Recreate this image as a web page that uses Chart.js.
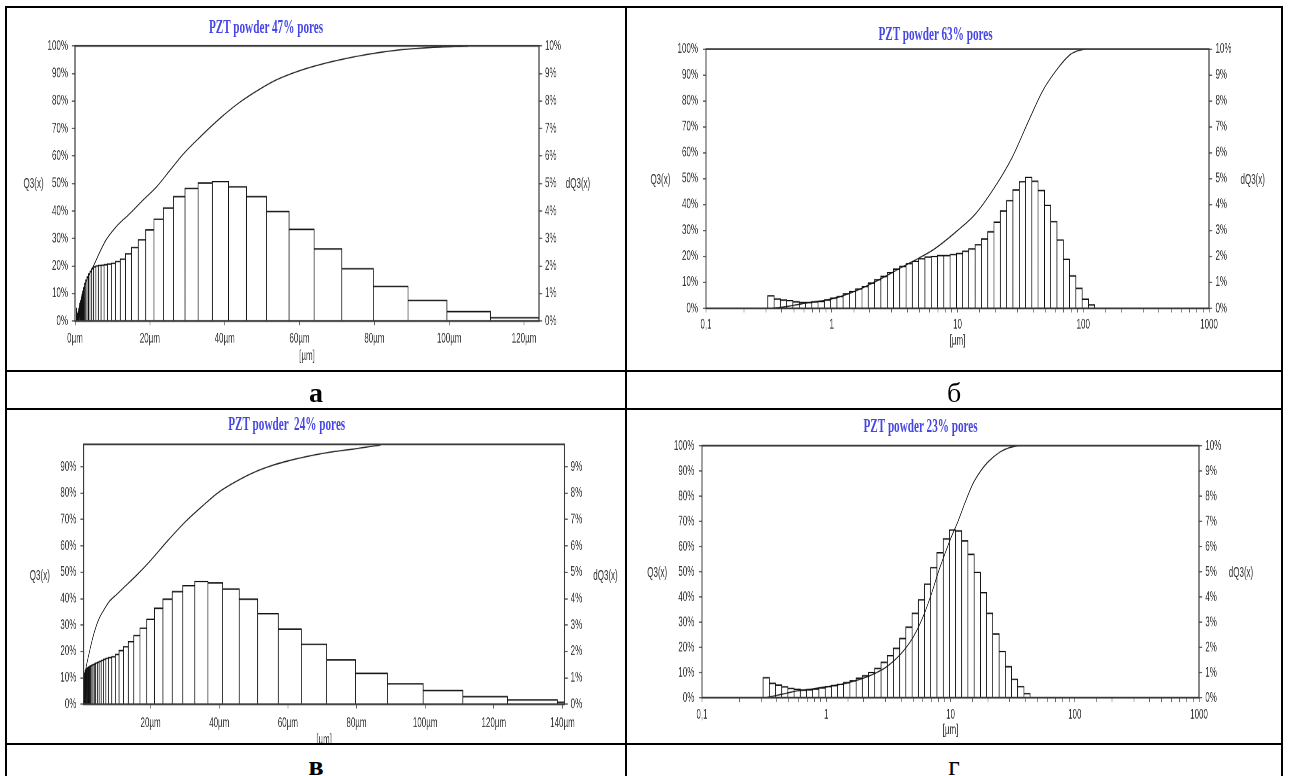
<!DOCTYPE html>
<html><head><meta charset="utf-8">
<script src="https://cdn.jsdelivr.net/npm/chart.js@4.4.1/dist/chart.umd.min.js"></script>
<style>
html,body{margin:0;padding:0;background:#fff;}
body{width:1289px;height:776px;position:relative;overflow:hidden;font-family:"Liberation Sans",Arial,sans-serif;}
.ln{position:absolute;background:#000;}
.cell{position:absolute;overflow:hidden;}
.wrap{position:absolute;left:0;top:0;transform-origin:0 0;transform:scale(0.8,1.4);}
.wrap canvas{position:absolute;left:0;top:0;}
.ttl{position:absolute;transform:translate(-50%,-50%);white-space:pre;font:bold 14px "Liberation Serif","Times New Roman",serif;color:#4646e4;}
.ax{position:absolute;transform:translate(-50%,-50%);white-space:nowrap;font:10px "Liberation Sans",Arial,sans-serif;color:#333;}
.lbl{position:absolute;text-align:center;font-family:"Liberation Serif","Times New Roman",serif;font-size:28px;line-height:36px;height:36px;color:#000;}
</style></head>
<body>
<div class="ln" style="left:5px;top:6px;width:1278px;height:2px"></div>
<div class="ln" style="left:5px;top:6px;width:2px;height:770px"></div>
<div class="ln" style="left:625px;top:6px;width:2px;height:770px"></div>
<div class="ln" style="left:1281px;top:6px;width:2px;height:770px"></div>
<div class="ln" style="left:5px;top:370px;width:1278px;height:2px"></div>
<div class="ln" style="left:5px;top:408px;width:1278px;height:2px"></div>
<div class="ln" style="left:5px;top:743px;width:1278px;height:2px"></div>

<div class="cell" style="left:8px;top:8px;width:617px;height:362px">
  <div class="wrap" style="width:771px;height:258px"><canvas id="cA" width="771" height="258"></canvas>
    <div class="ttl" style="left:322.5px;top:13.6px">PZT powder 47% pores</div>
    <div class="ax" style="left:32px;top:125.4px">Q3(x)</div>
    <div class="ax" style="left:712.5px;top:125.4px">dQ3(x)</div>
  </div>
</div>
<div class="cell" style="left:628px;top:8px;width:653px;height:362px">
  <div class="wrap" style="width:817px;height:258px"><canvas id="cB" width="817" height="258"></canvas>
    <div class="ttl" style="left:384.4px;top:18.8px">PZT powder 63% pores</div>
    <div class="ax" style="left:40.5px;top:121.9px">Q3(x)</div>
    <div class="ax" style="left:780.9px;top:121.9px">dQ3(x)</div>
  </div>
</div>
<div class="cell" style="left:8px;top:410px;width:617px;height:333px">
  <div class="wrap" style="width:771px;height:250px"><canvas id="cV" width="771" height="250"></canvas>
    <div class="ttl" style="left:348.4px;top:10.2px">PZT powder  24% pores</div>
    <div class="ax" style="left:39.75px;top:118px">Q3(x)</div>
    <div class="ax" style="left:746.9px;top:118px">dQ3(x)</div>
  </div>
</div>
<div class="cell" style="left:628px;top:410px;width:653px;height:333px">
  <div class="wrap" style="width:817px;height:238px"><canvas id="cG" width="817" height="238"></canvas>
    <div class="ttl" style="left:365.75px;top:11.9px">PZT powder 23% pores</div>
    <div class="ax" style="left:36.6px;top:116px">Q3(x)</div>
    <div class="ax" style="left:766.25px;top:116px">dQ3(x)</div>
  </div>
</div>

<div class="lbl" style="left:7px;width:618px;top:375px;font-weight:bold">а</div>
<div class="lbl" style="left:627px;width:654px;top:375px">б</div>
<div class="lbl" style="left:7px;width:618px;top:748px;font-weight:bold">в</div>
<div class="lbl" style="left:627px;width:654px;top:748px">г</div>

<script>
// ---- Bin edges (µm) ----
const edgesLin = [0.31,0.35,0.39,0.44,0.49,0.54,0.61,0.68,0.76,0.85,0.95,1.06,1.18,1.32,1.48,1.65,1.84,2.06,2.30,2.57,2.87,3.21,3.58,4.00,4.47,4.99,5.58,6.23,6.96,7.77,8.68,9.70,10.8,12.1,13.5,15.1,16.9,18.9,21.1,23.6,26.3,29.4,32.9,36.7,41.0,45.8,51.2,57.2,63.9,71.3,79.7,89.0,99.4,111,124];
const edgesLinV = [0.31,0.35,0.39,0.44,0.49,0.54,0.61,0.68,0.76,0.85,0.95,1.06,1.18,1.32,1.48,1.65,1.84,2.06,2.30,2.57,2.87,3.21,3.58,4.00,4.47,4.99,5.58,6.23,6.96,7.77,8.68,9.70,10.8,12.1,13.5,15.1,16.9,18.9,21.1,23.6,26.3,29.4,32.9,36.7,41.0,45.8,51.2,57.2,63.9,71.3,79.7,89.0,99.4,111,124,138.5,154.7];
const edgesLog = [0.31,0.348,0.39,0.438,0.491,0.551,0.618,0.694,0.778,0.873,0.98,1.10,1.23,1.38,1.55,1.74,1.95,2.19,2.46,2.76,3.10,3.47,3.90,4.37,4.91,5.51,6.18,6.93,7.78,8.73,9.80,11.0,12.3,13.8,15.5,17.4,19.5,21.9,24.6,27.6,31.0,34.7,39.0,43.7,49.1,55.1,61.8,69.3,77.8,87.3,98.0,110,123];

// ---- dQ3(x) histogram values (%) ----
const dq3A = [0.48,0.36,0.32,0.30,0.25,0.22,0.22,0.25,0.27,0.32,0.38,0.45,0.55,0.64,0.73,0.83,0.95,1.08,1.21,1.36,1.49,1.60,1.71,1.80,1.90,1.97,2.00,2.02,2.03,2.05,
              2.07,2.10,2.16,2.25,2.44,2.67,2.95,3.31,3.70,4.11,4.52,4.82,5.02,5.07,4.88,4.52,3.98,3.33,2.62,1.90,1.26,0.75,0.34,0.12];
const dq3B = [0.48,0.36,0.32,0.30,0.25,0.22,0.22,0.25,0.26,0.32,0.39,0.45,0.56,0.65,0.74,0.84,0.97,1.10,1.23,1.38,1.51,1.61,1.72,1.81,1.91,1.98,2.00,2.03,2.03,2.07,
              2.11,2.20,2.29,2.45,2.67,2.95,3.32,3.75,4.15,4.56,4.88,5.05,4.90,4.54,3.97,3.34,2.63,1.89,1.25,0.77,0.35,0.13];
const dq3V = [0.60,0.70,0.80,0.88,0.95,1.02,1.08,1.13,1.18,1.23,1.27,1.30,1.32,1.34,1.36,1.38,1.40,1.42,1.44,1.46,1.48,1.50,1.53,1.56,1.59,1.62,1.66,1.70,1.74,1.77,
              1.80,1.89,2.03,2.18,2.37,2.60,2.88,3.22,3.64,3.98,4.27,4.49,4.65,4.60,4.37,3.98,3.43,2.85,2.27,1.68,1.17,0.77,0.52,0.29,0.16,0.08];
const dq3G = [0.79,0.57,0.50,0.43,0.37,0.33,0.30,0.31,0.34,0.39,0.44,0.48,0.53,0.60,0.67,0.77,0.87,1.00,1.16,1.40,1.67,1.96,2.35,2.80,3.35,3.88,4.51,5.16,5.75,6.30,
              6.65,6.62,6.22,5.69,4.97,4.17,3.35,2.53,1.83,1.23,0.73,0.44,0.16];

// ---- Q3(x) cumulative curves ----
const q3A_x = [0.3,0.6,1.0,1.5,2.0,3.0,4.0,5.1,6.5,8.3,11,14.6,18.2,21.8,25.4,29,33.5,39,44,49,54,60,66,72,78,87,94.5,105];
const q3A_y = [0,1.5,4,7,10,14.5,17.5,20.5,24.7,29.5,34.3,39,44,48.8,54.8,60.8,67,74,79.5,84,87.8,91,93.4,95.3,96.9,98.6,99.4,99.9];
const q3B_x = [0.33,0.45,0.61,0.8,1.0,1.6,2.5,3.65,4.9,6.6,10,14,20.3,27.4,37,48,62.6,78,90,104];
const q3B_y = [0,0.8,1.9,2.8,3.6,7,11.6,16,19.3,23,30,36.6,47.6,58.5,72.6,84.2,92.5,97.7,99.3,100];
const q3V_x = [0.3,0.5,0.8,1.2,1.6,2.2,3.0,4.0,5.0,6.5,8.0,10,12,16,20,25,30,35,40,45,50,55,60,70,80,87];
const q3V_y = [0,5,10,14,16.5,20,24.5,29,32.5,36,39,41.5,44,49,54.5,62,69,75,80.5,84.5,87.8,90.3,92.2,95,96.9,98.2];
const q3G_x = [0.33,0.45,0.6,0.8,1.0,1.4,2.0,3.0,4.0,5.0,6.0,7.0,8.0,9.0,10,11.5,13,15,17.5,20,25,30,35];
const q3G_y = [0,1.5,2.8,3.6,4.3,5.6,7.8,12,17.5,24,32,41,50,57,63,70,77,84.5,90,93.5,97.5,99.3,100];

// ---- axis ranges / ticks ----
const xRangeA = [0, 124], xRangeV = [0.5, 140.6], xRangeLog = [0.1, 1000];
const xTicksA = [0, 20, 40, 60, 80, 100, 120];
const xTicksV = [20, 40, 60, 80, 100, 120, 140];
const yMaxFull = 100, yMaxV = 98.5;
const yStep = 10;

function histPts(edges, h, lo, hi) {
  const pts = [];
  if (lo !== undefined) pts.push({x: lo, y: 0});
  for (let i = 0; i < h.length; i++) {
    pts.push({x: edges[i], y: 0}, {x: edges[i], y: h[i]}, {x: edges[i+1], y: h[i]}, {x: edges[i+1], y: 0});
  }
  if (hi !== undefined) pts.push({x: hi, y: 0});
  return pts;
}
function curvePts(xs, ys) { return xs.map((x, i) => ({x: x, y: ys[i]})); }

const framePlugin = {
  id: 'frame',
  afterDatasetsDraw(chart) {
    const {ctx, chartArea: a} = chart;
    ctx.save();
    ctx.strokeStyle = '#3a3a3a';
    ctx.lineWidth = 1.3;
    ctx.strokeRect(a.left, a.top, a.right - a.left, a.bottom - a.top);
    ctx.restore();
  }
};

const FONT = {family: '"Liberation Sans", Arial, sans-serif', size: 10};
const TXT = '#333';

function logLabel(v) {
  if (Math.abs(v - 0.1) < 1e-9) return '0,1';
  const l = Math.log10(v);
  if (Math.abs(l - Math.round(l)) > 1e-6) return '';
  return String(Math.round(Math.pow(10, Math.round(l))));
}

function makeChart(id, c) {
  const xScale = c.log ? {
      type: 'logarithmic', min: xRangeLog[0], max: xRangeLog[1],
      ticks: {autoSkip: false, maxRotation: 0, font: FONT, color: TXT, padding: c.xPad, callback: logLabel}
    } : {
      type: 'linear', min: c.xr[0], max: c.xr[1],
      afterBuildTicks: s => { s.ticks = c.xticks.map(v => ({value: v})); },
      ticks: {autoSkip: false, maxRotation: 0, font: FONT, color: TXT, padding: c.xPad,
              callback: v => Math.round(v) + 'µm'}
    };
  Object.assign(xScale, {
    position: 'bottom',
    border: {display: false},
    grid: {drawOnChartArea: false, drawTicks: true, tickLength: 3, color: '#666', lineWidth: 1},
    title: {display: true, text: '[µm]', font: FONT, color: TXT, padding: {top: 0, bottom: c.xtPad}},
    afterFit: s => { s.height = c.xh; }
  });
  new Chart(document.getElementById(id), {
    type: 'line',
    data: {datasets: [
      {data: c.hist, yAxisID: 'y2', borderColor: '#111', borderWidth: 1, pointRadius: 0, fill: false, tension: 0},
      {data: c.cum, yAxisID: 'y', borderColor: '#222', borderWidth: 0.9, pointRadius: 0, fill: false, cubicInterpolationMode: 'monotone'}
    ]},
    options: {
      responsive: false, animation: false, devicePixelRatio: 2, events: [],
      layout: {padding: {top: c.top, left: 0, right: 0, bottom: 0}},
      plugins: {legend: {display: false}, tooltip: {enabled: false}, title: {display: false}},
      scales: {
        x: xScale,
        y: {position: 'left', min: 0, max: c.ymax,
            border: {display: false},
            grid: {drawOnChartArea: false, drawTicks: true, tickLength: 4, color: '#666'},
            ticks: {stepSize: yStep, includeBounds: false, font: FONT, color: TXT, padding: c.yPad, callback: v => Math.round(v) + '%'},
            afterFit: s => { s.width = c.yW; }},
        y2: {position: 'right', min: 0, max: c.ymax / 10,
            border: {display: false},
            grid: {drawOnChartArea: false, drawTicks: true, tickLength: 4, color: '#666'},
            ticks: {stepSize: yStep / 10, includeBounds: false, font: FONT, color: TXT, padding: c.y2Pad, callback: v => Math.round(v) + '%'},
            afterFit: s => { s.width = c.y2W; }}
      }
    },
    plugins: [framePlugin]
  });
}

makeChart('cA', {log: false, xr: xRangeA, xticks: xTicksA, ymax: yMaxFull, top: 27.1, yW: 83.75, y2W: 107.25, xh: 34.4, xPad: 3.8, xtPad: 3.4, yPad: 4.75, y2Pad: 3.5,
  hist: histPts(edgesLin, dq3A), cum: curvePts(q3A_x, q3A_y)});
makeChart('cB', {log: true, ymax: yMaxFull, top: 29.3, yW: 97.5, y2W: 90.75, xh: 43.5, xPad: 2.9, xtPad: 14.4, yPad: 6, y2Pad: 4.1,
  hist: histPts(edgesLog, dq3B, xRangeLog[0], xRangeLog[1]), cum: curvePts(q3B_x, q3B_y)});
makeChart('cV', {log: false, xr: xRangeV, xticks: xTicksV, ymax: yMaxV, top: 24.5, yW: 94.6, y2W: 75.4, xh: 39.8, xPad: 4.6, xtPad: 8.3, yPad: 5.2, y2Pad: 3.7,
  hist: histPts(edgesLinV, dq3V), cum: curvePts(q3V_x, q3V_y)});
makeChart('cG', {log: true, ymax: yMaxFull, top: 25.5, yW: 92.5, y2W: 103.25, xh: 32.5, xPad: 3.4, xtPad: 3.4, yPad: 5.6, y2Pad: 3.9,
  hist: histPts(edgesLog, dq3G, xRangeLog[0], xRangeLog[1]), cum: curvePts(q3G_x, q3G_y)});
</script>
</body></html>
